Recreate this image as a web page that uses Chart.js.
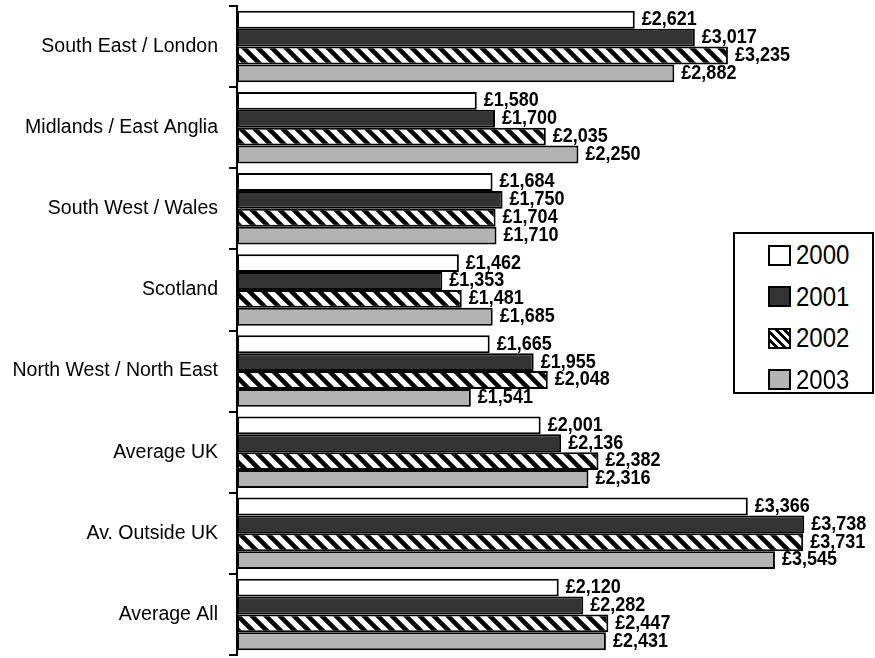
<!DOCTYPE html>
<html>
<head>
<meta charset="utf-8">
<script src="https://cdn.jsdelivr.net/npm/chart.js@4/dist/chart.umd.min.js"></script>
<style>
  html, body { margin: 0; padding: 0; background: #fff; }
  #wrap { position: relative; width: 875px; height: 658px; }
  #legend {
    position: absolute; left: 733px; top: 232px; width: 137px; height: 158px;
    border: 2px solid #000; background: #fff;
    font-family: "Liberation Sans", Arial, sans-serif; font-size: 24px; color: #000;
  }
  .row { position: absolute; left: 0; height: 40px; display: flex; align-items: center; }
  .sw { width: 19px; height: 17px; border: 2px solid #000; margin-left: 33px; margin-right: 5px; box-sizing: content-box; }
  .lt { display: inline-block; transform: scaleY(1.15); }
</style>
</head>
<body>
<div id="wrap">
  <canvas id="c" width="875" height="658"></canvas>
  <div id="legend"></div>
</div>
<script>
const categories = ["South East / London", "Midlands / East Anglia", "South West / Wales", "Scotland",
  "North West / North East", "Average UK", "Av. Outside UK", "Average All"];
const years = ["2000", "2001", "2002", "2003"];
const v2000 = [2621, 1580, 1684, 1462, 1665, 2001, 3366, 2120];
const v2001 = [3017, 1700, 1750, 1353, 1955, 2136, 3738, 2282];
const v2002 = [3235, 2035, 1704, 1481, 2048, 2382, 3731, 2447];
const v2003 = [2882, 2250, 1710, 1685, 1541, 2316, 3545, 2431];
const xMin = 0, xMax = 4000;

function hatch() {
  const s = 14;
  const p = document.createElement('canvas');
  p.width = s; p.height = s;
  const g = p.getContext('2d');
  g.fillStyle = '#fff'; g.fillRect(0, 0, s, s);
  g.strokeStyle = '#000'; g.lineWidth = 4.5;
  for (const o of [-s, 0, s]) {
    g.beginPath(); g.moveTo(o - 2, -2); g.lineTo(o + s + 2, s + 2); g.stroke();
  }
  return document.getElementById('c').getContext('2d').createPattern(p, 'repeat');
}

const fills = ['#ffffff', '#333333', hatch(), '#b3b3b3'];
const cssFills = ['#ffffff', '#333333',
  'repeating-linear-gradient(45deg, #fff 0 3px, #000 3px 6px)', '#b3b3b3'];
const series = [v2000, v2001, v2002, v2003];

const fmt = v => '£' + v.toLocaleString('en-GB');

const labelPlugin = {
  id: 'valueLabels',
  afterDatasetsDraw(chart) {
    const ctx = chart.ctx;
    ctx.save();
    ctx.font = 'bold 18px "Liberation Sans", Arial, sans-serif';
    ctx.fillStyle = '#000';
    ctx.textAlign = 'left';
    ctx.textBaseline = 'middle';
    chart.data.datasets.forEach((ds, di) => {
      const meta = chart.getDatasetMeta(di);
      meta.data.forEach((bar, i) => {
        ctx.save();
        ctx.translate(bar.x + 7, bar.y);
        ctx.scale(1, 1.08);
        ctx.fillText(fmt(ds.data[i]), 0, 0);
        ctx.restore();
      });
    });
    ctx.restore();
  }
};

new Chart(document.getElementById('c'), {
  type: 'bar',
  data: {
    labels: categories,
    datasets: years.map((y, k) => ({
      label: y,
      data: series[k],
      backgroundColor: fills[k],
      borderColor: '#000',
      borderWidth: 2,
      borderSkipped: false,
      categoryPercentage: 0.88,
      barPercentage: 1.0
    }))
  },
  options: {
    indexAxis: 'y',
    responsive: false,
    animation: false,
    layout: { padding: { left: 0, top: 6, right: 31, bottom: 3 } },
    plugins: { legend: { display: false }, tooltip: { enabled: false } },
    scales: {
      x: { display: false, min: xMin, max: xMax },
      y: {
        afterFit(scale) {
          scale.width = 237;
          scale.paddingTop = 0;
          scale.paddingBottom = 0;
        },
        grid: {
          display: true, drawOnChartArea: false, drawTicks: true,
          tickLength: 8, offset: true, color: '#000', lineWidth: 2
        },
        border: { display: true, color: '#000', width: 2 },
        ticks: {
          color: '#000', padding: 11,
          font: { family: '"Liberation Sans", Arial, sans-serif', size: 19.5 }
        }
      }
    }
  },
  plugins: [labelPlugin]
});

const leg = document.getElementById('legend');
years.forEach((y, k) => {
  const r = document.createElement('div');
  r.className = 'row';
  r.style.top = (1 + k * 41.5) + 'px';
  const sw = document.createElement('span');
  sw.className = 'sw';
  sw.style.background = cssFills[k];
  const t = document.createElement('span');
  t.className = 'lt';
  t.textContent = y;
  r.appendChild(sw); r.appendChild(t);
  leg.appendChild(r);
});
</script>
</body>
</html>
